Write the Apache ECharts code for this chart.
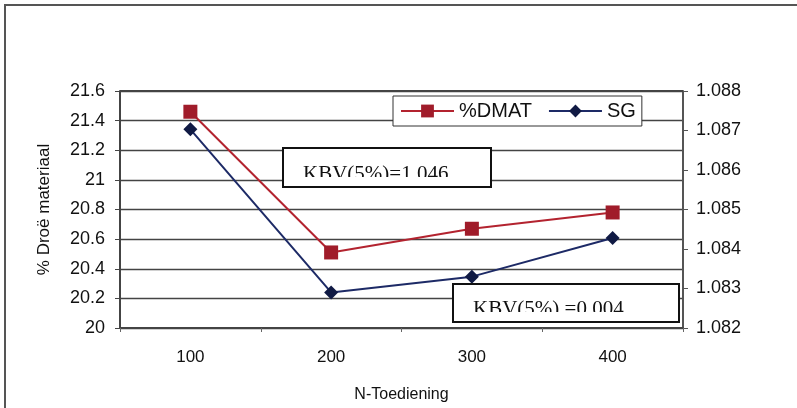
<!DOCTYPE html>
<html>
<head>
<meta charset="utf-8">
<script src="https://cdn.jsdelivr.net/npm/echarts@6/dist/echarts.min.js"></script>
<style>
html,body{margin:0;padding:0;background:#fff;}
#c{width:797px;height:408px;}
</style>
</head>
<body>
<div id="c"></div>
<script>
const categories = ['100', '200', '300', '400'];
const dmatValues = [21.46, 20.51, 20.67, 20.78];
const sgValues = [1.08703, 1.08290, 1.08330, 1.08428];
const leftTicks = { min: 20, max: 21.6, interval: 0.2 };
const rightTicks = { min: 1.082, max: 1.088, interval: 0.001 };
const note1 = 'KBV(5%)=1.046';
const note2 = 'KBV(5%) =0.004';

const chart = echarts.init(document.getElementById('c'), null, { renderer: 'canvas' });
const sans = 'Liberation Sans, Arial, sans-serif';
const serif = 'Liberation Serif, Times New Roman, serif';

function noteBox(x, y, w, h, text, textTop, clipY) {
  return [
    { type: 'rect', z: 20, shape: { x: x, y: y, width: w, height: h }, style: { fill: '#fff', stroke: 'none' } },
    { type: 'text', z: 21, x: x + 20, y: textTop, style: { text: text, font: '21px ' + serif, fill: '#111', verticalAlign: 'top' } },
    { type: 'rect', z: 22, shape: { x: x + 1, y: clipY, width: w - 2, height: y + h - clipY }, style: { fill: '#fff' } },
    { type: 'rect', z: 23, shape: { x: x, y: y, width: w, height: h }, style: { fill: 'none', stroke: '#111', lineWidth: 2 } }
  ];
}

chart.setOption({
  animation: false,
  backgroundColor: '#fff',
  grid: { left: 120, right: 114, top: 91, bottom: 77, show: false },
  legend: {
    left: 393, top: 96,
    padding: [5, 6, 5, 7],
    itemWidth: 53, itemHeight: 16,
    itemGap: 16,
    borderColor: '#333', borderWidth: 1,
    backgroundColor: '#fff',
    textStyle: { fontFamily: sans, fontSize: 20, color: '#111' },
    data: ['%DMAT', 'SG']
  },
  xAxis: {
    type: 'category',
    data: categories,
    boundaryGap: true,
    name: 'N-Toediening',
    nameLocation: 'middle',
    nameGap: 59,
    nameTextStyle: { fontFamily: sans, fontSize: 16, color: '#111' },
    axisLine: { lineStyle: { color: '#444', width: 2 } },
    axisTick: { show: true, length: 4, lineStyle: { color: '#666' } },
    axisLabel: { fontFamily: sans, fontSize: 17, color: '#111', margin: 21 }
  },
  yAxis: [
    {
      type: 'value',
      min: leftTicks.min, max: leftTicks.max, interval: leftTicks.interval,
      name: '% Droë materiaal',
      nameLocation: 'middle',
      nameGap: 67,
      nameRotate: 90,
      nameTextStyle: { fontFamily: sans, fontSize: 17, color: '#111' },
      axisLine: { show: true, lineStyle: { color: '#444', width: 2 } },
      axisTick: { show: true, length: 5, lineStyle: { color: '#444' } },
      axisLabel: { fontFamily: sans, fontSize: 18, color: '#111', margin: 15 },
      splitLine: { show: true, lineStyle: { color: '#444', width: 1.3 } }
    },
    {
      type: 'value',
      min: rightTicks.min, max: rightTicks.max, interval: rightTicks.interval,
      position: 'right',
      axisLine: { show: true, lineStyle: { color: '#555', width: 2 } },
      axisTick: { show: true, length: 5, inside: false, lineStyle: { color: '#555' } },
      axisLabel: { fontFamily: sans, fontSize: 18, color: '#111', margin: 13, formatter: v => v.toFixed(3) },
      splitLine: { show: false }
    }
  ],
  series: [
    {
      name: '%DMAT', type: 'line', yAxisIndex: 0, data: dmatValues,
      symbol: 'rect', symbolSize: 14,
      lineStyle: { color: '#b3232f', width: 2 },
      itemStyle: { color: '#a01c2a' },
      z: 5
    },
    {
      name: 'SG', type: 'line', yAxisIndex: 1, data: sgValues,
      symbol: 'diamond', symbolSize: 14,
      lineStyle: { color: '#1d2a66', width: 2 },
      itemStyle: { color: '#101a44' },
      z: 6
    }
  ],
  graphic: [
    { type: 'rect', z: 0, shape: { x: 5, y: 5, width: 800, height: 410 }, style: { fill: 'none', stroke: '#555', lineWidth: 2 } },
    { type: 'line', z: 1, shape: { x1: 120, y1: 91, x2: 683, y2: 91 }, style: { stroke: '#444', lineWidth: 2 } }
  ].concat(noteBox(283, 148, 208, 39, note1, 164, 177))
   .concat(noteBox(453, 284, 226, 38, note2, 299, 312))
});
</script>
</body>
</html>
